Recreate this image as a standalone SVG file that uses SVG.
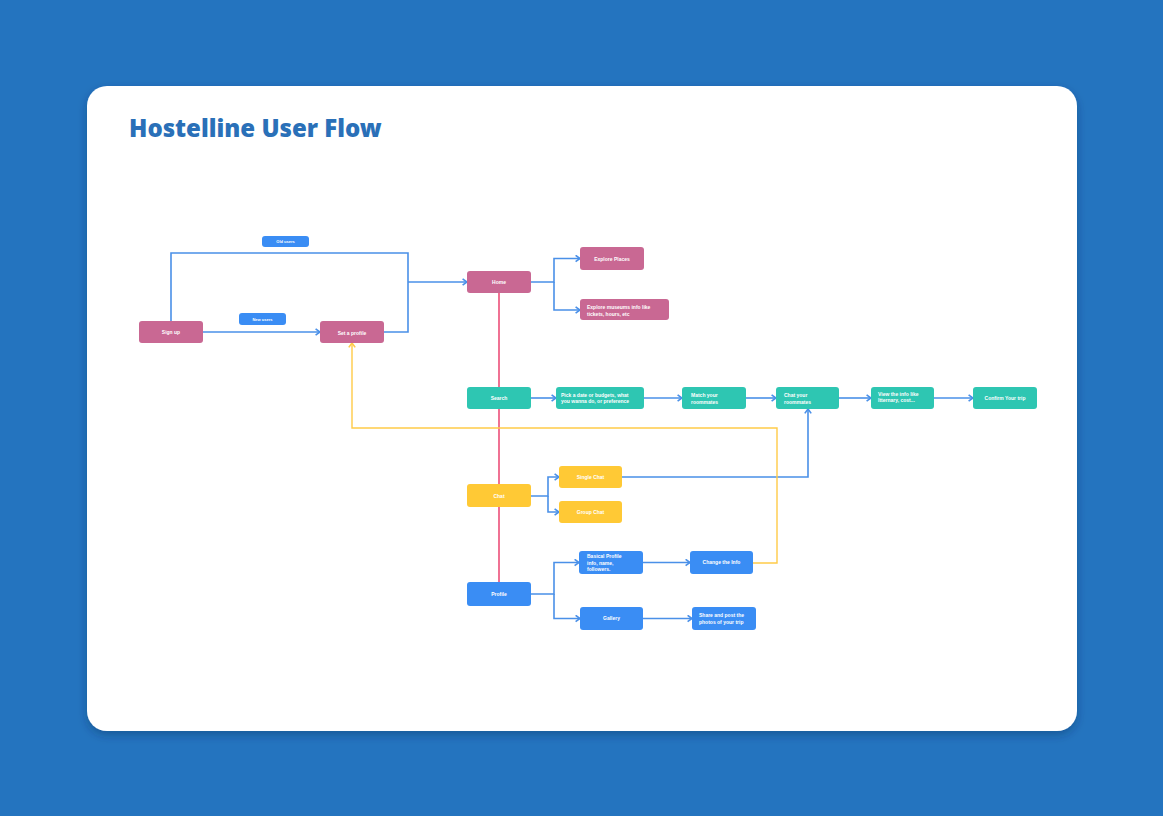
<svg xmlns="http://www.w3.org/2000/svg" width="1163" height="816" viewBox="0 0 1163 816">
<style>
.t{font-family:"Liberation Sans",Arial,sans-serif;font-weight:bold;fill:#fff;font-size:5px}
.c{text-anchor:middle}
.tag{font-size:4px}
.pk{fill:#C96893}
.tl{fill:#2EC6B2}
.yl{fill:#FFC935}
.bl{fill:#3A8DF4}
.ln{fill:none;stroke:#4A90E8;stroke-width:1.6}
.ly{fill:none;stroke:#FFCB48;stroke-width:1.4}
.lp{fill:none;stroke:#EC4E78;stroke-width:1.6}
</style>
<defs>
<marker id="a" viewBox="0 0 10 10" refX="8.5" refY="5" markerWidth="8" markerHeight="8" orient="auto" markerUnits="userSpaceOnUse"><path d="M3,1 L8.5,5 L3,9" fill="none" stroke="#4A90E8" stroke-width="2"/></marker>
<marker id="ay" viewBox="0 0 10 10" refX="8.5" refY="5" markerWidth="8" markerHeight="8" orient="auto" markerUnits="userSpaceOnUse"><path d="M3,1 L8.5,5 L3,9" fill="none" stroke="#FFCB48" stroke-width="2"/></marker>
<filter id="sh" x="-5%" y="-5%" width="110%" height="115%"><feDropShadow dx="0" dy="4" stdDeviation="5" flood-color="#0a2a50" flood-opacity="0.35"/></filter>
</defs>
<rect width="1163" height="816" fill="#2474BF"/>
<rect x="87" y="86" width="990" height="645" rx="20" fill="#fff" filter="url(#sh)"/>
<text x="129" y="137" font-family="'Noto Sans',Lato,sans-serif" font-weight="900" font-size="24" fill="#2A70B8">Hostelline User Flow</text>

<g id="connectors">
<path class="lp" d="M499,293 V583"/>
<path class="ln" d="M171,321 V253 H408 V332 H384"/>
<path class="ln" d="M408,282 H467" marker-end="url(#a)"/>
<path class="ln" d="M203,332 H320" marker-end="url(#a)"/>
<path class="ln" d="M531,282 H554 V258.5 H580" marker-end="url(#a)"/>
<path class="ln" d="M554,282 V310 H580" marker-end="url(#a)"/>
<path class="ln" d="M531,398 H556" marker-end="url(#a)"/>
<path class="ln" d="M644,398 H682" marker-end="url(#a)"/>
<path class="ln" d="M746,398 H776" marker-end="url(#a)"/>
<path class="ln" d="M839,398 H871" marker-end="url(#a)"/>
<path class="ln" d="M934,398 H973" marker-end="url(#a)"/>
<path class="ln" d="M531,496 H548 V477 H559" marker-end="url(#a)"/>
<path class="ln" d="M548,496 V512 H559" marker-end="url(#a)"/>
<path class="ln" d="M622,477 H808 V409" marker-end="url(#a)"/>
<path class="ln" d="M531,594 H554 V562.5 H579" marker-end="url(#a)"/>
<path class="ln" d="M554,594 V618.5 H580" marker-end="url(#a)"/>
<path class="ln" d="M643,562.5 H690" marker-end="url(#a)"/>
<path class="ln" d="M643,618.5 H692" marker-end="url(#a)"/>
<path class="ly" d="M753,563 H777 V428 H352 V343" marker-end="url(#ay)"/>
</g>

<g id="old-users"><rect class="bl" x="262" y="236" width="47" height="11" rx="3"/><text class="t c tag" x="285.5" y="243">Old users</text></g>
<g id="new-users"><rect class="bl" x="239" y="313" width="47" height="12" rx="3"/><text class="t c tag" x="262.5" y="320.5">New users</text></g>
<g id="sign-up"><rect class="pk" x="139" y="321" width="64" height="22" rx="3"/><text class="t c" x="171" y="333.5">Sign up</text></g>
<g id="set-profile"><rect class="pk" x="320" y="321" width="64" height="22" rx="3"/><text class="t c" x="352" y="335">Set a profile</text></g>
<g id="home"><rect class="pk" x="467" y="271" width="64" height="22" rx="3"/><text class="t c" x="499" y="283.5">Home</text></g>
<g id="explore-places"><rect class="pk" x="580" y="247" width="64" height="23" rx="3"/><text class="t c" x="612" y="260.5">Explore Places</text></g>
<g id="explore-museums"><rect class="pk" x="580" y="299" width="89" height="21" rx="3"/><text class="t" x="587" y="308.5">Explore museums info like</text><text class="t" x="587" y="315.5">tickets, hours, etc</text></g>

<g id="search"><rect class="tl" x="467" y="387" width="64" height="22" rx="3"/><text class="t c" x="499" y="399.5">Search</text></g>
<g id="pick-date"><rect class="tl" x="556" y="387" width="88" height="22" rx="3"/><text class="t" x="561" y="396.5">Pick a date or budgets, what</text><text class="t" x="561" y="402.5">you wanna do, or preference</text></g>
<g id="match"><rect class="tl" x="682" y="387" width="64" height="22" rx="3"/><text class="t" x="691" y="396.5">Match your</text><text class="t" x="691" y="403.5">roommates</text></g>
<g id="chat-roommates"><rect class="tl" x="776" y="387" width="63" height="22" rx="3"/><text class="t" x="784" y="396.5">Chat your</text><text class="t" x="784" y="403.5">roommates</text></g>
<g id="view-info"><rect class="tl" x="871" y="387" width="63" height="22" rx="3"/><text class="t" x="878" y="395.5">View the info like</text><text class="t" x="878" y="402">Itternary, cost...</text></g>
<g id="confirm"><rect class="tl" x="973" y="387" width="64" height="22" rx="3"/><text class="t c" x="1005" y="399.5">Confirm Your trip</text></g>

<g id="chat"><rect class="yl" x="467" y="484" width="64" height="23" rx="3"/><text class="t c" x="499" y="497.5">Chat</text></g>
<g id="single-chat"><rect class="yl" x="559" y="466" width="63" height="22" rx="3"/><text class="t c" x="590.5" y="478.5">Single Chat</text></g>
<g id="group-chat"><rect class="yl" x="559" y="501" width="63" height="22" rx="3"/><text class="t c" x="590.5" y="513.5">Group Chat</text></g>

<g id="profile"><rect class="bl" x="467" y="582" width="64" height="24" rx="3"/><text class="t c" x="499" y="596">Profile</text></g>
<g id="basic-profile"><rect class="bl" x="579" y="551" width="64" height="23" rx="3"/><text class="t" x="587" y="558">Basical Profile</text><text class="t" x="587" y="564.5">info, name,</text><text class="t" x="587" y="571">followers.</text></g>
<g id="change-info"><rect class="bl" x="690" y="551" width="63" height="23" rx="3"/><text class="t c" x="721.5" y="564">Change the Info</text></g>
<g id="gallery"><rect class="bl" x="580" y="607" width="63" height="23" rx="3"/><text class="t c" x="611.5" y="620">Gallery</text></g>
<g id="share"><rect class="bl" x="692" y="607" width="64" height="23" rx="3"/><text class="t" x="699" y="617">Share and post the</text><text class="t" x="699" y="623.5">photos of your trip</text></g>
</svg>
